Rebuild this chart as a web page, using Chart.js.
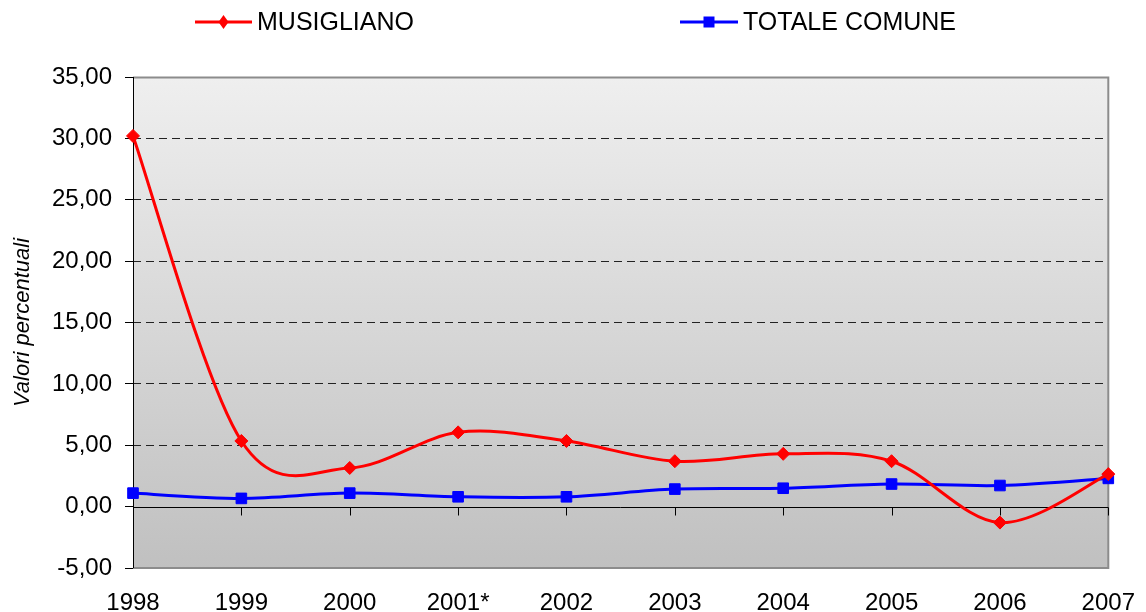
<!DOCTYPE html>
<html>
<head>
<meta charset="utf-8">
<script src="https://cdn.jsdelivr.net/npm/chart.js@4"></script>
<style>
  html, body { margin: 0; padding: 0; background: #fff; }
  #wrap { width: 1146px; height: 612px; }
</style>
</head>
<body>
<div id="wrap"><canvas id="chart" width="1146" height="612"></canvas></div>
<script>
const years = ['1998', '1999', '2000', '2001*', '2002', '2003', '2004', '2005', '2006', '2007'];
const musigliano = [30.2, 5.35, 3.15, 6.05, 5.35, 3.7, 4.3, 3.7, -1.3, 2.65];
const totaleComune = [1.1, 0.67, 1.1, 0.8, 0.8, 1.43, 1.5, 1.84, 1.72, 2.3];
const yTicks = { min: -5, max: 35, step: 5 };

const FONT = "'Liberation Sans', Arial, sans-serif";
const ctx = document.getElementById('chart').getContext('2d');

// office-style smoothing: uniform catmull-rom, 1/6 of the neighbour span
const smooth = {
  id: 'smooth',
  beforeDatasetDraw(chart, args) {
    const meta = args.meta;
    const line = meta.dataset;
    line.updateControlPoints(chart.chartArea, meta.iScale.axis);
    const pts = meta.data;
    const n = pts.length;
    for (let i = 0; i < n; i++) {
      const p = pts[i];
      const prev = pts[Math.max(0, i - 1)];
      const next = pts[Math.min(n - 1, i + 1)];
      const dx = (next.x - prev.x) / 6;
      const dy = (next.y - prev.y) / 6;
      p.cp1x = p.x - dx;
      p.cp1y = p.y - dy;
      p.cp2x = p.x + dx;
      p.cp2y = p.y + dy;
    }
  }
};

// plot background, frame, zero line and legend
const frame = {
  id: 'frame',
  beforeDraw(chart) {
    const a = chart.chartArea;
    const c = chart.ctx;
    const g = c.createLinearGradient(0, a.top, 0, a.bottom);
    g.addColorStop(0, '#efefef');
    g.addColorStop(1, '#c0c0c0');
    c.save();
    c.fillStyle = g;
    c.fillRect(a.left, a.top, a.right - a.left, a.bottom - a.top);
    c.restore();
  },
  beforeDatasetsDraw(chart) {
    const a = chart.chartArea;
    const c = chart.ctx;
    const x = chart.scales.x;
    const y = chart.scales.y;
    c.save();
    // grey frame
    c.strokeStyle = '#8c8c8c';
    c.lineWidth = 2;
    c.beginPath();
    c.moveTo(a.left, a.top + 0.5);
    c.lineTo(a.right, a.top + 0.5);
    c.lineTo(a.right, a.bottom);
    c.lineTo(a.left, a.bottom);
    c.stroke();
    // zero line with category ticks
    const y0 = Math.round(y.getPixelForValue(0)) + 0.5;
    c.strokeStyle = '#000';
    c.lineWidth = 1;
    c.beginPath();
    c.moveTo(a.left, y0);
    c.lineTo(a.right, y0);
    years.forEach((yr, i) => {
      const px = Math.round(x.getPixelForValue(i)) + 0.5;
      c.moveTo(px, y0);
      c.lineTo(px, y0 + 8);
    });
    c.stroke();
    // value axis
    c.beginPath();
    c.moveTo(a.left + 0.5, a.top);
    c.lineTo(a.left + 0.5, a.bottom);
    c.stroke();
    c.restore();
  },
  afterDraw(chart) {
    const c = chart.ctx;
    const items = [
      { ds: chart.data.datasets[0], x0: 195, x1: 252, tx: 257 },
      { ds: chart.data.datasets[1], x0: 680, x1: 738, tx: 743 }
    ];
    const ly = 22;
    c.save();
    items.forEach(it => {
      c.strokeStyle = it.ds.borderColor;
      c.lineWidth = 3;
      c.beginPath();
      c.moveTo(it.x0, ly);
      c.lineTo(it.x1, ly);
      c.stroke();
      const mx = (it.x0 + it.x1) / 2;
      c.fillStyle = it.ds.borderColor;
      c.beginPath();
      if (it.ds.pointStyle === 'rectRot') {
        c.moveTo(mx, ly - 7);
        c.lineTo(mx + 5, ly);
        c.lineTo(mx, ly + 7);
        c.lineTo(mx - 5, ly);
        c.closePath();
      } else {
        c.rect(mx - 5.5, ly - 5.5, 11, 11);
      }
      c.fill();
      c.fillStyle = '#000';
      c.font = '25px ' + FONT;
      c.textBaseline = 'middle';
      c.textAlign = 'left';
      c.fillText(it.ds.label, it.tx, ly + 1);
    });
    c.restore();
  }
};

new Chart(ctx, {
  type: 'line',
  data: {
    labels: years,
    datasets: [{
      label: 'MUSIGLIANO',
      data: musigliano,
      borderColor: '#ff0000',
      backgroundColor: '#ff0000',
      borderWidth: 3,
      pointStyle: 'rectRot',
      pointRadius: 6.5,
      pointBorderWidth: 1,
      tension: 0.4,
      fill: false
    }, {
      label: 'TOTALE COMUNE',
      data: totaleComune,
      borderColor: '#0000ff',
      backgroundColor: '#0000ff',
      borderWidth: 3,
      pointStyle: 'rect',
      pointRadius: 7.5,
      pointBorderWidth: 1,
      tension: 0.4,
      fill: false
    }]
  },
  options: {
    responsive: false,
    animation: false,
    layout: {
      padding: { top: 77, right: 0, left: 0, bottom: 0 }
    },
    scales: {
      x: {
        offset: false,
        grid: {
          display: false,
          drawTicks: true,
          tickLength: 10
        },
        border: {
          display: false
        },
        ticks: {
          color: '#000',
          padding: 11,
          maxRotation: 0,
          autoSkip: false,
          font: { family: FONT, size: 24 }
        },
        afterFit(scale) {
          scale.height = 44;
        }
      },
      y: {
        min: yTicks.min,
        max: yTicks.max,
        border: {
          display: false,
          dash: [8, 5]
        },
        grid: {
          color: (c) => (c.tick && [0, yTicks.min, yTicks.max].includes(c.tick.value)) ? 'rgba(0,0,0,0)' : '#222',
          lineWidth: 1,
          drawTicks: true,
          tickLength: 8,
          tickColor: '#000',
          tickBorderDash: []
        },
        ticks: {
          stepSize: yTicks.step,
          color: '#000',
          padding: 13,
          font: { family: FONT, size: 24 },
          callback: (v) => v.toFixed(2).replace('.', ',')
        },
        title: {
          display: true,
          text: 'Valori percentuali',
          color: '#000',
          padding: { top: 10, bottom: 0 },
          font: { family: FONT, size: 22, style: 'italic' }
        },
        afterFit(scale) {
          scale.width = 133;
        }
      }
    },
    plugins: {
      legend: { display: false },
      tooltip: { enabled: false }
    }
  },
  plugins: [smooth, frame]
});
</script>
</body>
</html>
